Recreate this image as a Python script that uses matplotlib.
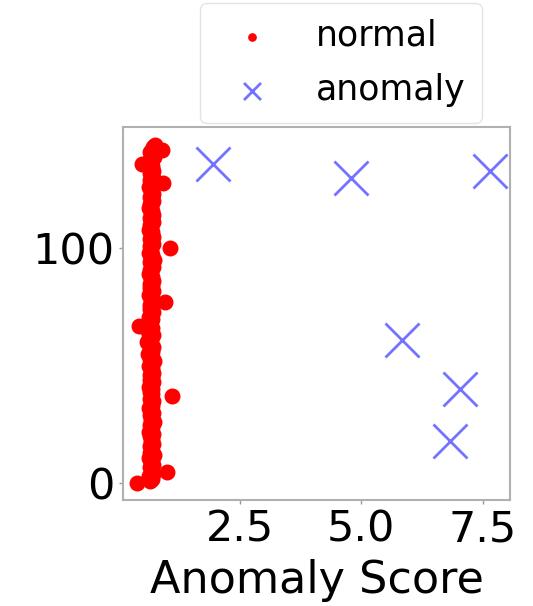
import numpy as np
import matplotlib
matplotlib.use("Agg")
import matplotlib.pyplot as plt

# anomaly score per sample (normal samples, in sample order)
normal_score = [
    0.38, 0.66, 0.70, 0.64, 0.72, 1.00, 0.68, 0.65, 0.71, 0.67,
    0.69, 0.64, 0.73, 0.66, 0.70, 0.68, 0.65, 0.72, 0.67, 0.69,
    0.66, 0.71, 0.64, 0.68, 0.70, 0.65, 0.73, 0.67, 0.69, 0.66,
    0.72, 0.68, 0.64, 0.70, 0.67, 0.71, 0.65, 1.10, 0.69, 0.66,
    0.70, 0.64, 0.68, 0.72, 0.66, 0.69, 0.65, 0.71, 0.67, 0.70,
    0.64, 0.68, 0.73, 0.66, 0.70, 0.62, 0.69, 0.65, 0.72, 0.67,
    0.60, 0.68, 0.64, 0.71, 0.66, 0.62, 0.69, 0.42, 0.59, 0.67,
    0.70, 0.64, 0.68, 0.72, 0.66, 0.69, 0.65, 0.96, 0.67, 0.70,
    0.64, 0.68, 0.71, 0.66, 0.69, 0.65, 0.72, 0.67, 0.70, 0.64,
    0.68, 0.66, 0.71, 0.69, 0.65, 0.73, 0.67, 0.70, 0.64, 0.68,
    1.06, 0.66, 0.71, 0.69, 0.65, 0.72, 0.67, 0.70, 0.64, 0.68,
    0.66, 0.71, 0.69, 0.65, 0.72, 0.67, 0.70, 0.64, 0.68, 0.66,
    0.71, 0.69, 0.65, 0.72, 0.67, 0.70, 0.64, 0.68, 0.92, 0.66,
    0.71, 0.69, 0.65, 0.72, 0.67, 0.70, 0.48, 0.64, 0.68, 0.74,
    0.70, 0.66, 0.90, 0.72, 0.76,
]
normal_idx = np.arange(len(normal_score))

anomaly_score = [1.94, 4.79, 7.65, 5.83, 7.02, 6.83]
anomaly_idx = [136, 130, 133, 61, 40, 18]

fig = plt.figure(figsize=(5.33, 6.06), dpi=100)
ax = fig.add_axes([0.231, 0.175, 0.726, 0.615])

ax.scatter(normal_score, normal_idx, s=110, c="red", label="normal", zorder=2)
ax.scatter(anomaly_score, anomaly_idx, s=600, marker="x", c="blue", alpha=0.55,
           linewidths=2, label="anomaly", zorder=3)

ax.set_xlim(0.1, 8.06)
ax.set_ylim(-7, 151.5)
ax.set_xticks([2.5, 5.0, 7.5])
ax.set_yticks([0, 100])
ax.tick_params(labelsize=31, length=3, color="#999999", width=1)
ax.set_xlabel("Anomaly Score", fontsize=32, labelpad=6)
for sp in ax.spines.values():
    sp.set_color("#b0b0b0")
    sp.set_linewidth(1.5)

fig.legend(loc="upper left", bbox_to_anchor=(0.375, 0.995), fontsize=25,
           markerscale=0.5, frameon=True, edgecolor="#dddddd",
           borderaxespad=0, handlelength=2.1, handletextpad=0.8,
           borderpad=0.45, labelspacing=0.6)

fig.savefig("out.png", dpi=100)
